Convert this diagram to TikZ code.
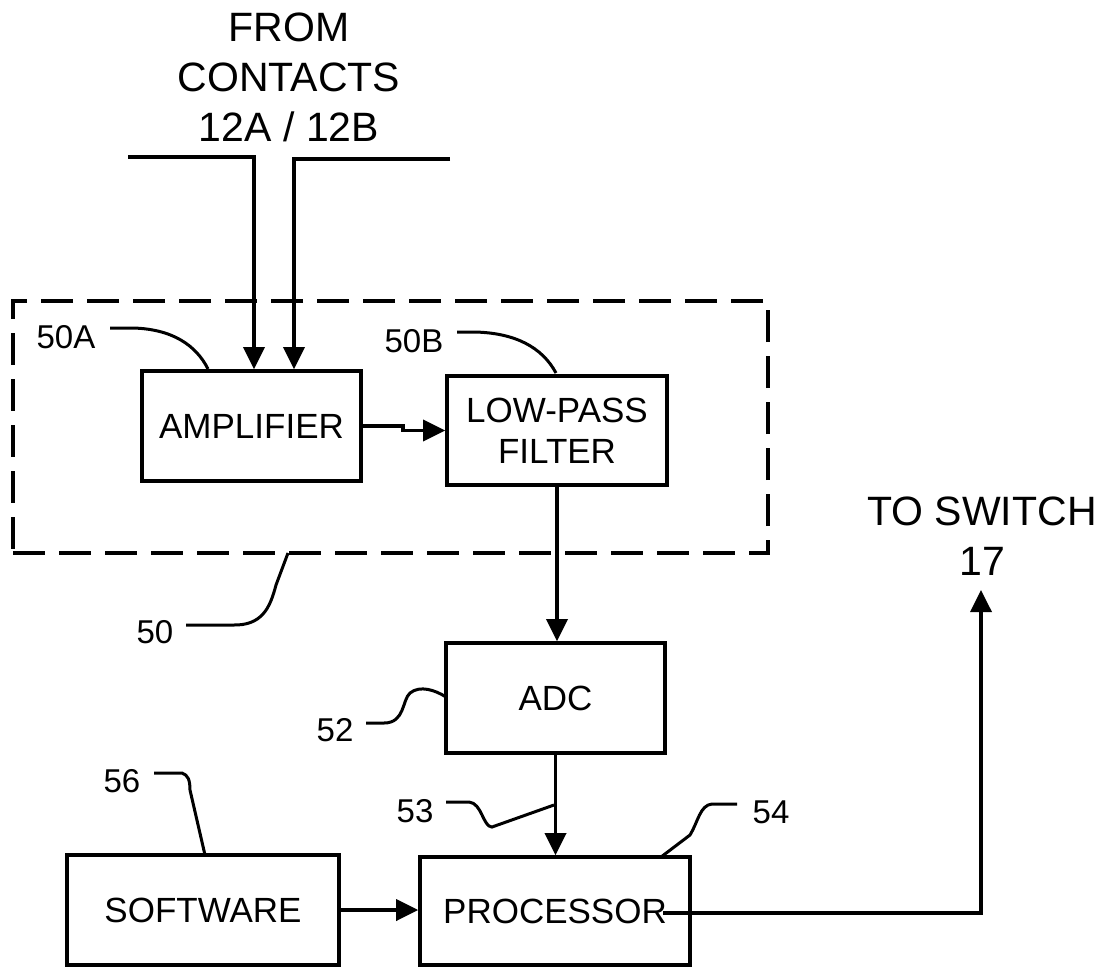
\documentclass[tikz,border=0pt]{standalone}
\usepackage{fontspec}
\setmainfont{Liberation Sans}
\usetikzlibrary{arrows.meta}
\begin{document}
\begin{tikzpicture}[x=1pt,y=-1pt,
  box/.style={draw, line width=3.6pt, inner sep=0pt, align=center, font=\fontsize{35}{41}\selectfont},
  lbl/.style={inner sep=0pt, font=\fontsize{33}{40}\selectfont},
  big/.style={inner sep=0pt, align=center, font=\fontsize{41}{50}\selectfont},
  arr/.style={line width=3.6pt, -{Triangle[length=22pt,width=21pt]}},
  lead/.style={line width=3pt},
  grpbox/.style={draw, line width=3.4pt, dash pattern=on 32pt off 14pt, inner sep=0pt}]
\useasboundingbox (0,0) rectangle (1107,967);

% texts
\node[big] (from) at (289,77.5) {FROM\\CONTACTS\\12A / 12B};
\node[big] (sw) at (982,536) {TO SWITCH\\17};

% group box
\node[grpbox, minimum width=755pt, minimum height=252pt] (grp) at (390.5,427) {};

% blocks
\node[box, minimum width=219pt, minimum height=110pt] (amp) at (251.5,426) {AMPLIFIER};
\node[box, minimum width=220pt, minimum height=109pt] (lpf) at (557,430.5) {LOW-PASS\\FILTER};
\node[box, minimum width=219pt, minimum height=110pt] (adc) at (555.5,698) {ADC};
\node[box, minimum width=272pt, minimum height=110pt] (soft) at (203,910) {SOFTWARE};
\node[box, minimum width=270pt, minimum height=108pt] (proc) at (555,911) {PROCESSOR};

% labels
\node[lbl] (l50a) at (66,337.5) {50A};
\node[lbl] (l50b) at (414,341) {50B};
\node[lbl] (l50) at (155,632) {50};
\node[lbl] (l52) at (335,730) {52};
\node[lbl] (l56) at (122,781) {56};
\node[lbl] (l53) at (415,811) {53};
\node[lbl] (l54) at (771,812) {54};

% input lines
\coordinate (inA) at (128,157);
\coordinate (inB) at (450,159);
\draw[arr] (inA) -| ([xshift=2.5pt]amp.north);
\draw[arr] (inB) -| ([xshift=42.5pt]amp.north);

% connectors
\draw[arr] (amp.east) -- ++(40,0) |- (lpf.west);
\draw[arr] (lpf.south) -- (lpf.south |- adc.north);
\draw[arr] (adc.south) -- (adc.south |- proc.north);
\draw[arr] (soft.east) -- (soft.east -| proc.west);
\coordinate (swtip) at (981,590);
\draw[arr] ([xshift=108pt,yshift=-2pt]proc.center) -| (swtip);

% leaders
\draw[lead] (110,328) -- (133,328) .. controls (172,329) and (196,345) .. (208,369);
\draw[lead] (457,332) -- (475,332) .. controls (515,333) and (542,347) .. (556,373);
\draw[lead] (186,625) -- (232,625) .. controls (262,626) and (270,608) .. (276,585) -- (288,553);
\draw[lead] (366,723) -- (384,723) .. controls (405,723) and (402,700) .. (410,693) .. controls (420,685) and (435,690) .. (446,697);
\draw[lead] (446,802) -- (469,802) .. controls (482,803) and (483,827) .. (492,827) -- (554,805);
\draw[lead] (737,804) -- (712,804) .. controls (700,805) and (698,822) .. (690,835) -- (661,857);
\draw[lead] (154,773) -- (182,773) .. controls (188,775) and (190,780) .. (190,790) -- (205,855);
\end{tikzpicture}
\end{document}
